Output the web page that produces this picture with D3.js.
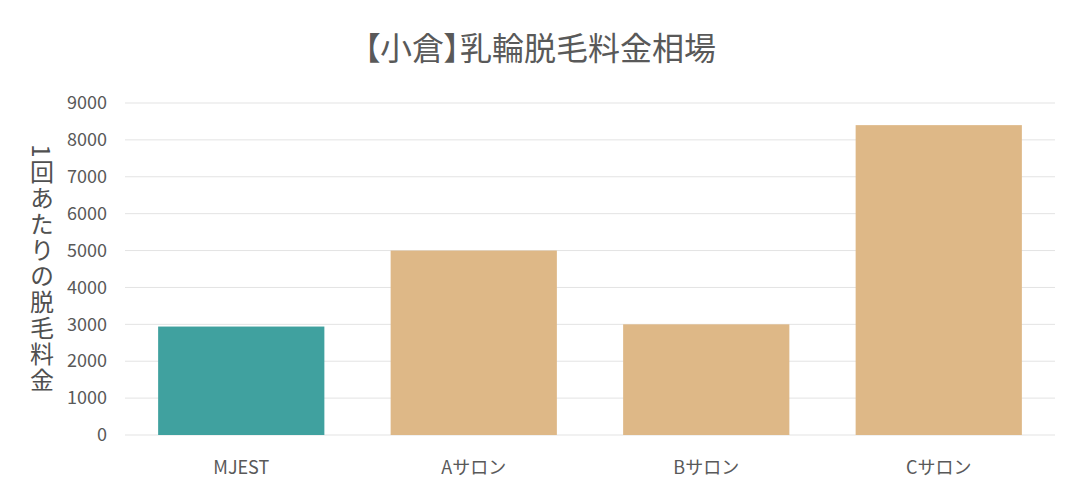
<!DOCTYPE html>
<html>
<head>
<meta charset="utf-8">
<script src="https://cdn.jsdelivr.net/npm/d3@7"></script>
<style>
  body { margin: 0; background: #fff; }
  svg { display: block; font-family: "Noto Sans CJK JP", "Noto Sans", sans-serif; }
</style>
</head>
<body>
<div id="chart"></div>
<script>
// data
const categories = ["MJEST", "Aサロン", "Bサロン", "Cサロン"];
const prices = [2940, 5000, 3000, 8400];
const barColors = ["#40a19f", "#deb887", "#deb887", "#deb887"];
const yTicks = [0, 1000, 2000, 3000, 4000, 5000, 6000, 7000, 8000, 9000];
const title = "【小倉】乳輪脱毛料金相場";
const yLabel = "1回あたりの脱毛料金";

const width = 1080, height = 500;
const margin = { top: 103, right: 25, bottom: 65, left: 125 };
const textColor = "#595959";

const svg = d3.select("#chart").append("svg")
    .attr("width", width)
    .attr("height", height);

const x = d3.scaleBand()
    .domain(categories)
    .range([margin.left, width - margin.right])
    .paddingInner(0.285)
    .paddingOuter(0.1425);

const y = d3.scaleLinear()
    .domain([0, 9000])
    .range([height - margin.bottom, margin.top]);

// gridlines
svg.append("g")
    .selectAll("line")
    .data(yTicks)
    .join("line")
    .attr("x1", margin.left)
    .attr("x2", width - margin.right)
    .attr("y1", d => y(d))
    .attr("y2", d => y(d))
    .attr("stroke", "#e3e3e3")
    .attr("stroke-width", 1);

// y axis tick labels
const yAxis = svg.append("g")
    .attr("transform", `translate(${margin.left},0)`)
    .call(d3.axisLeft(y).tickValues(yTicks).tickSize(0).tickPadding(18).tickFormat(d3.format("d")));
yAxis.select(".domain").remove();
yAxis.selectAll("text")
    .attr("fill", textColor)
    .attr("font-size", 18)
    .attr("font-family", "'Noto Sans CJK JP', sans-serif");

// bars
svg.append("g")
    .selectAll("rect")
    .data(prices)
    .join("rect")
    .attr("x", (d, i) => x(categories[i]))
    .attr("y", d => y(d))
    .attr("width", x.bandwidth())
    .attr("height", d => y(0) - y(d))
    .attr("fill", (d, i) => barColors[i]);

// x axis labels
const xAxis = svg.append("g")
    .attr("transform", `translate(0,${height - margin.bottom})`)
    .call(d3.axisBottom(x).tickSize(0).tickPadding(26));
xAxis.select(".domain").remove();
xAxis.selectAll("text")
    .attr("fill", textColor)
    .attr("font-size", 18)
    .attr("font-family", "'Noto Sans CJK JP', sans-serif");

// title
svg.append("text")
    .attr("x", width / 2)
    .attr("y", 46)
    .attr("text-anchor", "middle")
    .attr("dominant-baseline", "central")
    .attr("fill", textColor)
    .attr("font-size", 32)
    .style("font-feature-settings", "'palt'")
    .text(title);

// vertical y label
svg.append("text")
    .attr("x", 42)
    .attr("y", 269)
    .attr("text-anchor", "middle")
    .attr("fill", "#505050")
    .attr("font-size", 24)
    .style("letter-spacing", "2px")
    .style("writing-mode", "vertical-rl")
    .style("text-orientation", "mixed")
    .text(yLabel);
</script>
</body>
</html>
